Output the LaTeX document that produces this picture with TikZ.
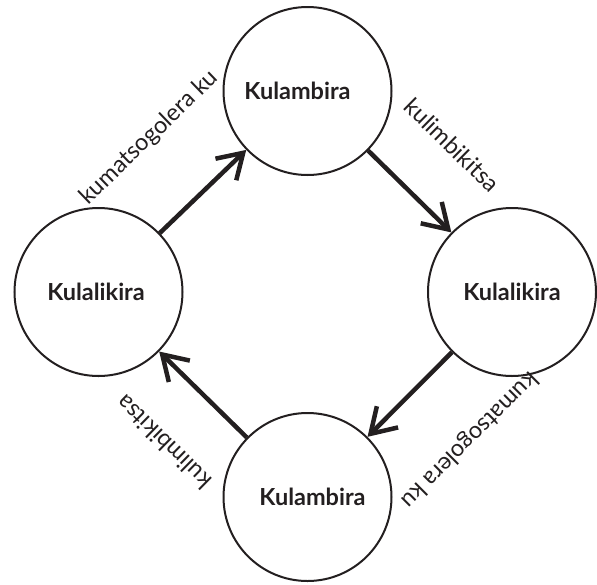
\documentclass[tikz,border=0pt]{standalone}
\usepackage{fontspec}
\setmainfont{Lato}
\usetikzlibrary{arrows.meta,calc}
\definecolor{ink}{HTML}{231F20}
\begin{document}
\begin{tikzpicture}[x=1pt,y=-1pt,
  state/.style={circle,draw=ink,line width=2pt,minimum size=168pt,inner sep=0pt},
  statetext/.style={font=\fontsize{23.5}{27}\selectfont\bfseries,text=ink,inner sep=0pt},
  flow/.style={draw=ink,line width=4.5pt,-{Straight Barb[length=24pt,width=30pt]}},
  tag/.style={font=\fontsize{23.5}{27}\selectfont,text=ink,inner sep=0pt}]
\useasboundingbox (0,0) rectangle (597,584);

% the four states
\node[state,label={[statetext,xshift=-10pt]center:Kulambira}]  (top)    at (307.5,91)  {};
\node[state,label={[statetext,xshift=-2.5pt]center:Kulalikira}] (left)   at (98.5,292)  {};
\node[state,label={[statetext]center:Kulalikira}]              (right)  at (512,292)   {};
\node[state,label={[statetext,xshift=5pt]center:Kulambira}]    (bottom) at (307.5,497) {};

% transitions
\draw[flow] (left) -- (top);
\draw[flow] (top) -- (right);
\draw[flow] (right) -- (bottom);
\draw[flow] (bottom) -- (left);

% label anchors on each transition
\coordinate (m1) at ($(left)!0.5!(top)$);
\coordinate (m2) at ($(top)!0.5!(right)$);
\coordinate (m3) at ($(right)!0.5!(bottom)$);
\coordinate (m4) at ($(bottom)!0.5!(left)$);
\coordinate (c1) at ($(m1)!-1.5pt!(top)$);
\coordinate (c2) at ($(m2)!-2pt!(right)$);
\coordinate (c3) at ($(m3)!-10pt!(bottom)$);
\coordinate (c4) at ($(m4)!-5.5pt!(left)$);

% labels, set outside the cycle along each transition
\node[tag,rotate=43.9]   (t1) at ($(c1)!76pt!90:(top)$)    {kumatsogolera ku};
\node[tag,rotate=-44.5]  (t2) at ($(c2)!63pt!90:(right)$)  {kulimbikitsa};
\node[tag,rotate=-135.1] (t3) at ($(c3)!74pt!90:(bottom)$) {kumatsogolera ku};
\node[tag,rotate=135.6]  (t4) at ($(c4)!62pt!90:(left)$)   {kulimbikitsa};
\end{tikzpicture}
\end{document}
